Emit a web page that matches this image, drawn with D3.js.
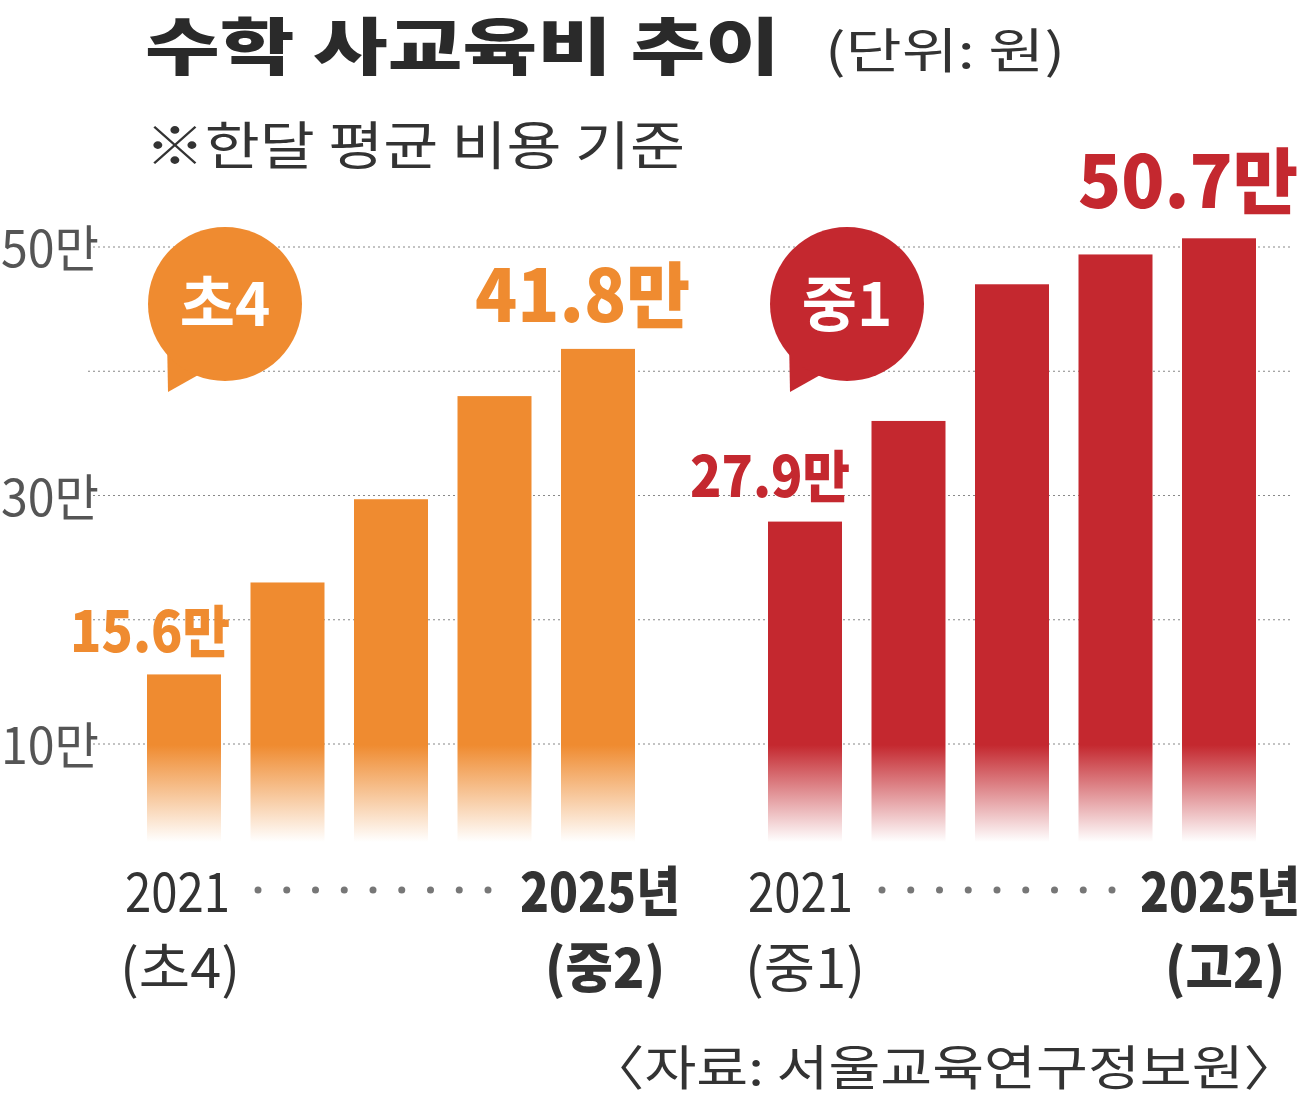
<!DOCTYPE html><html><head><meta charset="utf-8"><script src="https://cdn.jsdelivr.net/npm/d3@7"></script>
<style>body{margin:0;background:#fff}svg{display:block}text{font-family:"Noto Sans CJK KR","Noto Sans",sans-serif}</style></head><body><svg id="c" width="1301" height="1101"></svg><script>
const elemValues=[15.6,23.0,29.7,38.0,41.8];
const midValues=[27.9,36.0,47.0,49.4,50.7];
const tickValues=[10,20,30,40,50];
const tickLabels={10:"10만",30:"30만",50:"50만"};
const svg=d3.select("#c");
const y=d3.scaleLinear().domain([10,50]).range([744,247]);
const xo=d3.scaleBand().domain(d3.range(5)).range([147,635]).paddingInner(0.285).paddingOuter(0);
const xr=d3.scaleBand().domain(d3.range(5)).range([768,1256]).paddingInner(0.285).paddingOuter(0);
const defs=svg.append("defs");
[["go","#ef8b30"],["gr","#c4282f"]].forEach(([id,c])=>{const g=defs.append("linearGradient").attr("id",id).attr("gradientUnits","userSpaceOnUse").attr("x1",0).attr("x2",0).attr("y1",745).attr("y2",842);
g.append("stop").attr("offset",0).attr("stop-color",c);g.append("stop").attr("offset",1).attr("stop-color",c).attr("stop-opacity",0);});
svg.append("g").selectAll("line").data(tickValues).join("line").attr("x1",88).attr("x2",1292).attr("y1",d=>y(d)).attr("y2",d=>y(d)).attr("stroke","#888").attr("stroke-width",1.2).attr("stroke-dasharray","2,3");
svg.append("g").selectAll("text").data(tickValues.filter(d=>tickLabels[d])).join("text").attr("x",1).attr("y",d=>y(d)+20).attr("font-size",50).attr("fill","#555").attr("lengthAdjust","spacingAndGlyphs").attr("textLength",98).text(d=>tickLabels[d]);
function bars(vals,x,fill){svg.append("g").selectAll("rect").data(vals).join("rect").attr("x",(d,i)=>x(i)).attr("width",x.bandwidth()).attr("y",d=>y(d)).attr("height",d=>842-y(d)).attr("fill",fill);}
bars(elemValues,xo,"url(#go)");bars(midValues,xr,"url(#gr)");
const T=(x,yy,t,fs,w,c,len,anchor)=>{const e=svg.append("text").attr("x",x).attr("y",yy).attr("font-size",fs).attr("font-weight",w).attr("fill",c).attr("text-anchor",anchor||"start").text(t);if(len)e.attr("textLength",len).attr("lengthAdjust","spacingAndGlyphs");return e;};
T(145,70,"수학 사교육비 추이",62,900,"#2a2a2a",635);
T(825,68,"(단위: 원)",48,400,"#333",240);
T(145,165,"※한달 평균 비용 기준",52,400,"#333",540);
T(70,652,"15.6만",56,900,"#ef8b30",160);T(475,322,"41.8만",72,900,"#ef8b30",215);
T(690,497,"27.9만",56,900,"#c4282f",160);T(1078,208,"50.7만",72,900,"#c4282f",220);
function bubble(cx,cy,c,t){svg.append("path").attr("d",`M${cx-58},${cy+35} L${cx-57},${cy+88} L${cx-25},${cy+70}Z`).attr("fill",c);
svg.append("circle").attr("cx",cx).attr("cy",cy).attr("r",77).attr("fill",c);
svg.append("text").attr("x",cx).attr("y",cy+22).attr("text-anchor","middle").attr("font-size",60).attr("font-weight",700).attr("fill","#fff").text(t);}
bubble(225,304,"#ef8b30","초4");bubble(847,304,"#c4282f","중1");
T(125,912,"2021",54,400,"#333",105);T(120,988,"(초4)",54,400,"#333",120);T(520,912,"2025년",54,900,"#333",160);T(545,988,"(중2)",54,900,"#333",120);
T(748,912,"2021",54,400,"#333",105);T(745,988,"(중1)",54,400,"#333",120);T(1140,912,"2025년",54,900,"#333",160);T(1165,988,"(고2)",54,900,"#333",120);
const dots=(x0,x1)=>svg.append("g").selectAll("circle").data(d3.range(9)).join("circle").attr("cx",i=>x0+i*(x1-x0)/8).attr("cy",890).attr("r",3.5).attr("fill","#777");
dots(258,488);dots(882,1112);
T(588,1085,"〈자료: 서울교육연구정보원〉",48,400,"#333",712);
</script></body></html>
